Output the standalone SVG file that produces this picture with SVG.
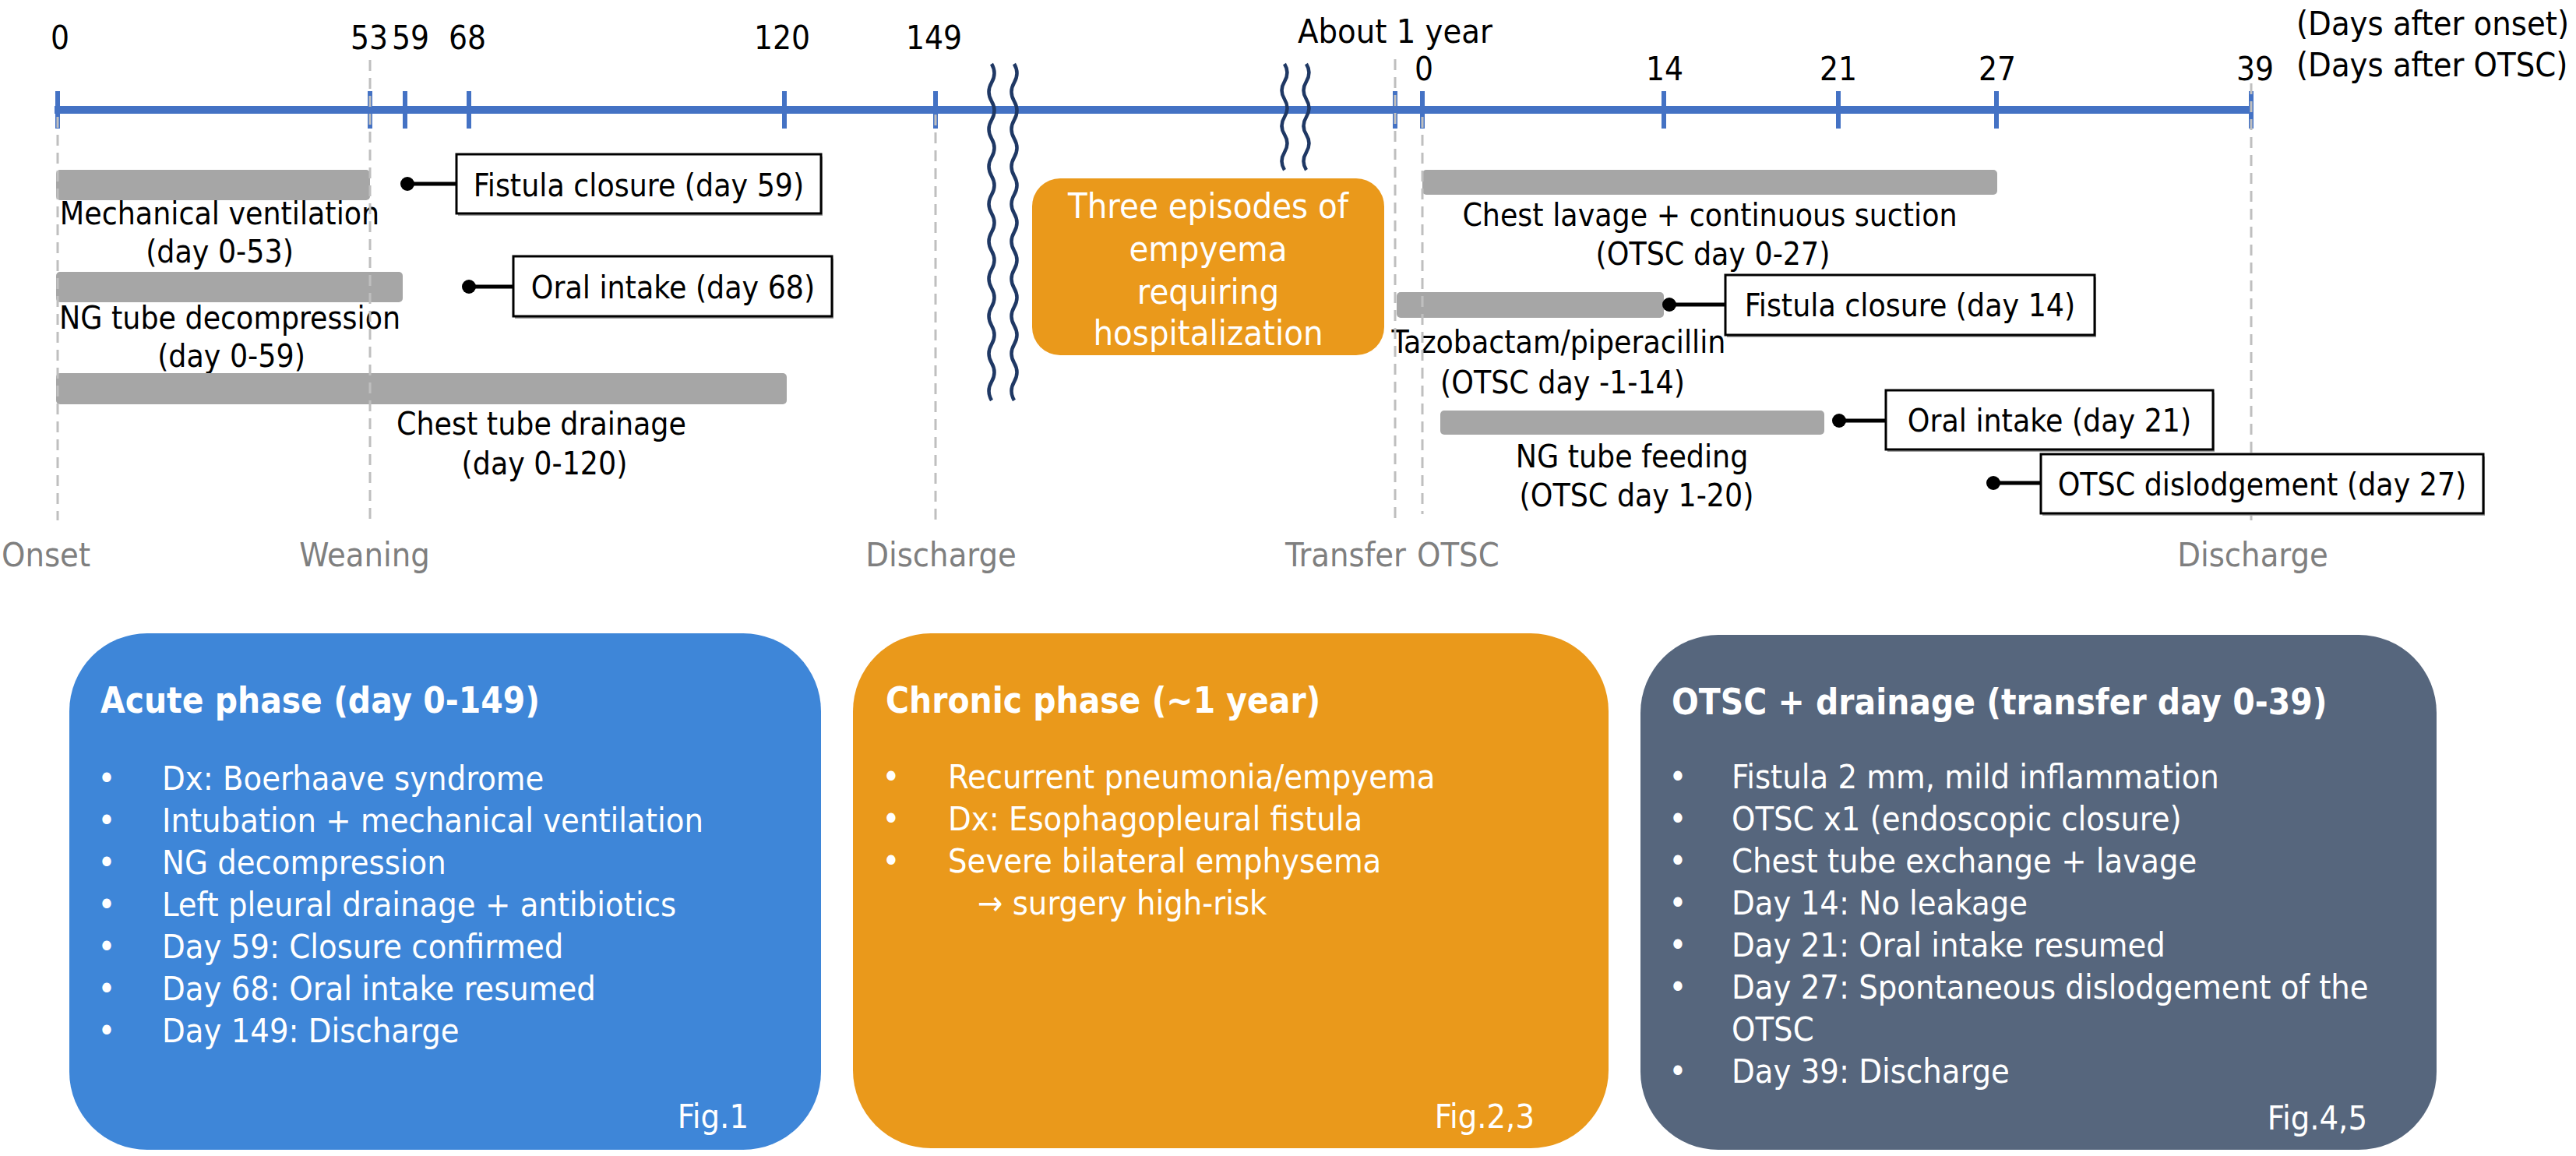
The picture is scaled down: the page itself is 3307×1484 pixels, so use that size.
<svg xmlns="http://www.w3.org/2000/svg" width="3307" height="1484" viewBox="0 0 3307 1484">
<defs>
<style>
text{font-family:"DejaVu Sans Condensed","DejaVu Sans",sans-serif;font-stretch:condensed;font-size:43px;fill:#000}
.lbl{font-size:40.5px}
.num{font-size:42px}
.mid{text-anchor:middle}
.end{text-anchor:end}
.gl{fill:#7f7f7f}
.w{fill:#fff}
.wb{fill:#fff;font-weight:bold;font-size:45.5px}
.bar{fill:#a6a6a6}
.dash{stroke:#bfbfbf;stroke-width:3;stroke-dasharray:14 9;fill:none}
.tick{stroke:#4472c4;stroke-width:6}
.box{fill:#fff;stroke:#000;stroke-width:3}
.shadow{fill:#a0a0a0}
.lead{stroke:#000;stroke-width:5;fill:none}
.dot{fill:#000}
.wave{stroke:#1f3864;stroke-width:4.5;fill:none}
</style>
</defs>
<rect width="3307" height="1484" fill="#fff"/>

<g id="axis">
<line x1="70" y1="141" x2="2893" y2="141" stroke="#4472c4" stroke-width="10"/>
<line class="tick" x1="74" y1="117" x2="74" y2="165"/>
<line class="tick" x1="475" y1="117" x2="475" y2="165"/>
<line class="tick" x1="520" y1="117" x2="520" y2="165"/>
<line class="tick" x1="602" y1="117" x2="602" y2="165"/>
<line class="tick" x1="1007" y1="117" x2="1007" y2="165"/>
<line class="tick" x1="1201" y1="117" x2="1201" y2="165"/>
<line class="tick" x1="1791" y1="117" x2="1791" y2="165"/>
<line class="tick" x1="1826" y1="117" x2="1826" y2="165"/>
<line class="tick" x1="2136" y1="117" x2="2136" y2="165"/>
<line class="tick" x1="2360" y1="117" x2="2360" y2="165"/>
<line class="tick" x1="2563" y1="117" x2="2563" y2="165"/>
<line class="tick" x1="2890" y1="117" x2="2890" y2="165"/>
<text class="num mid" x="77" y="63">0</text>
<text class="num mid" x="474" y="63">53</text>
<text class="num mid" x="527" y="63">59</text>
<text class="num mid" x="600" y="63">68</text>
<text class="num mid" x="1004" y="63">120</text>
<text class="num mid" x="1199" y="63">149</text>
<text x="1666" y="55">About 1 year</text>
<text class="num mid" x="1828" y="103">0</text>
<text class="num mid" x="2137" y="103">14</text>
<text class="num mid" x="2360" y="103">21</text>
<text class="num mid" x="2564" y="103">27</text>
<text class="num mid" x="2895" y="103">39</text>
<text x="2948" y="45">(Days after onset)</text>
<text x="2948" y="98">(Days after OTSC)</text>
</g>

<g id="breaks">
<path class="wave" d="M1273 82 q7 12 0 24 t0 24 t0 24 t0 24 t0 24 t0 24 t0 24 t0 24 t0 24 t0 24 t0 24 t0 24 t0 24 t0 24 t0 24 t0 24 t0 24 t0 24"/>
<path class="wave" d="M1302 82 q7 12 0 24 t0 24 t0 24 t0 24 t0 24 t0 24 t0 24 t0 24 t0 24 t0 24 t0 24 t0 24 t0 24 t0 24 t0 24 t0 24 t0 24 t0 24"/>
<path class="wave" d="M1649 82 q7 11.3 0 22.7 t0 22.7 t0 22.7 t0 22.7 t0 22.7 t0 22.7"/>
<path class="wave" d="M1677 82 q7 11.3 0 22.7 t0 22.7 t0 22.7 t0 22.7 t0 22.7 t0 22.7"/>
</g>

<g id="bar-mechanical-ventilation">
<rect class="bar" x="72" y="218" width="403" height="39" rx="5"/>
<text class="lbl mid" x="282" y="288">Mechanical ventilation</text>
<text class="lbl mid" x="282" y="337">(day 0-53)</text>
</g>
<g id="bar-ng-decompression">
<rect class="bar" x="72" y="349" width="445" height="39" rx="5"/>
<text class="lbl mid" x="295" y="422">NG tube decompression</text>
<text class="lbl mid" x="297" y="471">(day 0-59)</text>
</g>
<g id="bar-chest-tube">
<rect class="bar" x="72" y="479" width="938" height="40" rx="5"/>
<text class="lbl mid" x="695" y="558">Chest tube drainage</text>
<text class="lbl mid" x="699" y="609">(day 0-120)</text>
</g>
<g id="bar-chest-lavage">
<rect class="bar" x="1826" y="218" width="738" height="32" rx="5"/>
<text class="lbl mid" x="2195" y="290">Chest lavage + continuous suction</text>
<text class="lbl mid" x="2199" y="340">(OTSC day 0-27)</text>
</g>
<g id="bar-tazobactam">
<rect class="bar" x="1793" y="375" width="343" height="33" rx="5"/>
<text class="lbl mid" x="2001" y="453">Tazobactam/piperacillin</text>
<text class="lbl mid" x="2006" y="505">(OTSC day -1-14)</text>
</g>
<g id="bar-ng-feeding">
<rect class="bar" x="1849" y="527" width="493" height="31" rx="5"/>
<text class="lbl mid" x="2095" y="600">NG tube feeding</text>
<text class="lbl mid" x="2101" y="650">(OTSC day 1-20)</text>
</g>

<g id="guides">
<line class="dash" x1="74" y1="150" x2="74" y2="668"/>
<line class="dash" x1="475" y1="77" x2="475" y2="668"/>
<line class="dash" x1="1201" y1="147" x2="1201" y2="668"/>
<line class="dash" x1="1791" y1="76" x2="1791" y2="668"/>
<line class="dash" x1="1826" y1="150" x2="1826" y2="660"/>
<line class="dash" x1="2890" y1="107" x2="2890" y2="668"/>
</g>

<g id="connectors">
<circle class="dot" cx="523" cy="236" r="9"/><line class="lead" x1="523" y1="236" x2="586" y2="236"/>
<circle class="dot" cx="602" cy="368" r="9"/><line class="lead" x1="602" y1="368" x2="659" y2="368"/>
<circle class="dot" cx="2143" cy="391" r="9"/><line class="lead" x1="2143" y1="391" x2="2215" y2="391"/>
<circle class="dot" cx="2361" cy="540" r="9"/><line class="lead" x1="2361" y1="540" x2="2421" y2="540"/>
<circle class="dot" cx="2559" cy="620" r="9"/><line class="lead" x1="2559" y1="620" x2="2620" y2="620"/>
</g>

<g id="event-fistula-59">
<rect class="shadow" x="588" y="201" width="468" height="76"/>
<rect class="box" x="586" y="198" width="468" height="76"/>
<text class="lbl mid" x="820" y="252">Fistula closure (day 59)</text>
</g>
<g id="event-oral-68">
<rect class="shadow" x="661" y="332" width="409" height="77"/>
<rect class="box" x="659" y="329" width="409" height="77"/>
<text class="lbl mid" x="864" y="383">Oral intake (day 68)</text>
</g>
<g id="event-fistula-14">
<rect class="shadow" x="2217" y="356" width="474" height="77"/>
<rect class="box" x="2215" y="353" width="474" height="77"/>
<text class="lbl mid" x="2452" y="406">Fistula closure (day 14)</text>
</g>
<g id="event-oral-21">
<rect class="shadow" x="2423" y="504" width="420" height="76"/>
<rect class="box" x="2421" y="501" width="420" height="76"/>
<text class="lbl mid" x="2631" y="554">Oral intake (day 21)</text>
</g>
<g id="event-otsc-dislodgement">
<rect class="shadow" x="2622" y="586" width="568" height="76"/>
<rect class="box" x="2620" y="583" width="568" height="76"/>
<text class="lbl mid" x="2904" y="636">OTSC dislodgement (day 27)</text>
</g>

<g id="empyema-box">
<rect x="1325" y="229" width="452" height="227" rx="36" fill="#ea991b"/>
<text class="mid w" x="1551" y="280" style="font-size:45px">Three episodes of</text>
<text class="mid w" x="1551" y="335" style="font-size:45px">empyema</text>
<text class="mid w" x="1551" y="390" style="font-size:45px">requiring</text>
<text class="mid w" x="1551" y="443" style="font-size:45px">hospitalization</text>
</g>

<g id="milestones">
<text class="gl" x="2" y="727">Onset</text>
<text class="gl mid" x="468" y="727">Weaning</text>
<text class="gl mid" x="1208" y="727">Discharge</text>
<text class="gl end" x="1805" y="727">Transfer</text>
<text class="gl" x="1819" y="727">OTSC</text>
<text class="gl mid" x="2892" y="727">Discharge</text>
</g>

<g id="panel-acute">
<rect x="89" y="813" width="965" height="663" rx="100" fill="#3e86d8"/>
<text class="wb" x="129" y="915">Acute phase (day 0-149)</text>
<text class="w mid" x="137" y="1014">•</text><text class="w" x="208" y="1014">Dx: Boerhaave syndrome</text>
<text class="w mid" x="137" y="1068">•</text><text class="w" x="208" y="1068">Intubation + mechanical ventilation</text>
<text class="w mid" x="137" y="1122">•</text><text class="w" x="208" y="1122">NG decompression</text>
<text class="w mid" x="137" y="1176">•</text><text class="w" x="208" y="1176">Left pleural drainage + antibiotics</text>
<text class="w mid" x="137" y="1230">•</text><text class="w" x="208" y="1230">Day 59: Closure confirmed</text>
<text class="w mid" x="137" y="1284">•</text><text class="w" x="208" y="1284">Day 68: Oral intake resumed</text>
<text class="w mid" x="137" y="1338">•</text><text class="w" x="208" y="1338">Day 149: Discharge</text>
<text class="w end" x="961" y="1448">Fig.1</text>
</g>

<g id="panel-chronic">
<rect x="1095" y="813" width="970" height="661" rx="100" fill="#ea991b"/>
<text class="wb" x="1137" y="915">Chronic phase (~1 year)</text>
<text class="w mid" x="1144" y="1012">•</text><text class="w" x="1217" y="1012">Recurrent pneumonia/empyema</text>
<text class="w mid" x="1144" y="1066">•</text><text class="w" x="1217" y="1066">Dx: Esophagopleural fistula</text>
<text class="w mid" x="1144" y="1120">•</text><text class="w" x="1217" y="1120">Severe bilateral emphysema</text>
<text class="w" x="1255" y="1174">→ surgery high-risk</text>
<text class="w end" x="1970" y="1448">Fig.2,3</text>
</g>

<g id="panel-otsc">
<rect x="2106" y="815" width="1022" height="661" rx="100" fill="#56667d"/>
<text class="wb" x="2146" y="917">OTSC + drainage (transfer day 0-39)</text>
<text class="w mid" x="2154" y="1012">•</text><text class="w" x="2223" y="1012">Fistula 2 mm, mild inflammation</text>
<text class="w mid" x="2154" y="1066">•</text><text class="w" x="2223" y="1066">OTSC x1 (endoscopic closure)</text>
<text class="w mid" x="2154" y="1120">•</text><text class="w" x="2223" y="1120">Chest tube exchange + lavage</text>
<text class="w mid" x="2154" y="1174">•</text><text class="w" x="2223" y="1174">Day 14: No leakage</text>
<text class="w mid" x="2154" y="1228">•</text><text class="w" x="2223" y="1228">Day 21: Oral intake resumed</text>
<text class="w mid" x="2154" y="1282">•</text><text class="w" x="2223" y="1282">Day 27: Spontaneous dislodgement of the</text>
<text class="w" x="2223" y="1336">OTSC</text>
<text class="w mid" x="2154" y="1390">•</text><text class="w" x="2223" y="1390">Day 39: Discharge</text>
<text class="w end" x="3039" y="1450">Fig.4,5</text>
</g>
</svg>
